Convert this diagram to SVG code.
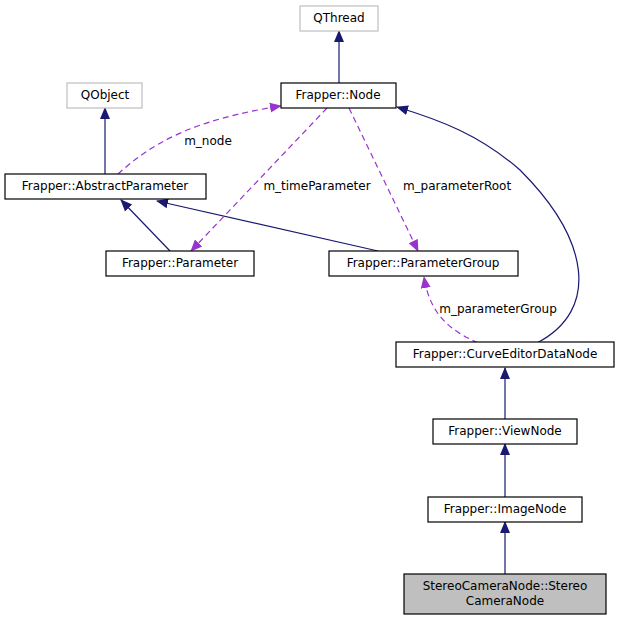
<svg xmlns="http://www.w3.org/2000/svg" width="620" height="621" viewBox="0 0 620 621">
<style>
text{font-family:"DejaVu Sans",sans-serif;font-size:12px;fill:#000;text-anchor:middle}
.n rect{fill:#fff;stroke:#000;stroke-width:1.2}
.g rect{fill:#fff;stroke:#bfbfbf;stroke-width:1.2}
.inh{fill:none;stroke:#191970;stroke-width:1.2}
.use{fill:none;stroke:#9a32cd;stroke-width:1.2;stroke-dasharray:6,4}
</style>
<defs>
<marker id="ai" markerWidth="12" markerHeight="12" refX="11" refY="6" orient="auto" markerUnits="userSpaceOnUse"><path d="M0,1 L12,6 L0,11 Z" fill="#191970"/></marker>
<marker id="au" markerWidth="12" markerHeight="12" refX="11" refY="6" orient="auto" markerUnits="userSpaceOnUse"><path d="M0,1 L12,6 L0,11 Z" fill="#9a32cd"/></marker>
</defs>
<g id="edges">
<path class="inh" d="M339,83 V31" marker-end="url(#ai)"/>
<path class="inh" d="M105,174 V108" marker-end="url(#ai)"/>
<path class="inh" d="M170,251 L121,200" marker-end="url(#ai)"/>
<path class="inh" d="M378,251 L157,201" marker-end="url(#ai)"/>
<path class="inh" d="M537,343 C600,310 590,240 520,170 C480,135 440,120 397,107" marker-end="url(#ai)"/>
<path class="inh" d="M505,419 V368" marker-end="url(#ai)"/>
<path class="inh" d="M505,497 V444" marker-end="url(#ai)"/>
<path class="inh" d="M505,574 V522" marker-end="url(#ai)"/>
<path class="use" d="M118,174 C150,145 190,120 281,106" marker-end="url(#au)"/>
<path class="use" d="M327,108 L191,251" marker-end="url(#au)"/>
<path class="use" d="M349,108 L418,251" marker-end="url(#au)"/>
<path class="use" d="M478,343 C450,330 430,315 424,277" marker-end="url(#au)"/>
<text x="208" y="145">m_node</text>
<text x="317" y="190">m_timeParameter</text>
<text x="457" y="190">m_parameterRoot</text>
<text x="498" y="313">m_parameterGroup</text>
</g>
<g id="QThread" class="g"><rect x="300" y="6" width="78" height="25"/><text x="339" y="22">QThread</text></g>
<g id="Node" class="n"><rect x="281" y="83" width="115" height="25"/><text x="338" y="99">Frapper::Node</text></g>
<g id="QObject" class="g"><rect x="67" y="83" width="75" height="25"/><text x="105" y="99">QObject</text></g>
<g id="AbstractParameter" class="n"><rect x="5" y="174" width="201" height="25"/><text x="105" y="190">Frapper::AbstractParameter</text></g>
<g id="Parameter" class="n"><rect x="106" y="251" width="148" height="25"/><text x="180" y="267">Frapper::Parameter</text></g>
<g id="ParameterGroup" class="n"><rect x="329" y="251" width="189" height="25"/><text x="423" y="267">Frapper::ParameterGroup</text></g>
<g id="CurveEditorDataNode" class="n"><rect x="396" y="342" width="218" height="25"/><text x="505" y="358">Frapper::CurveEditorDataNode</text></g>
<g id="ViewNode" class="n"><rect x="433" y="419" width="144" height="25"/><text x="505" y="435">Frapper::ViewNode</text></g>
<g id="ImageNode" class="n"><rect x="428" y="497" width="154" height="25"/><text x="505" y="513">Frapper::ImageNode</text></g>
<g id="StereoCameraNode"><rect x="404" y="574" width="202" height="40" fill="#bfbfbf" stroke="#000" stroke-width="1.2"/><text x="505" y="590">StereoCameraNode::Stereo</text><text x="505" y="605">CameraNode</text></g>
</svg>
